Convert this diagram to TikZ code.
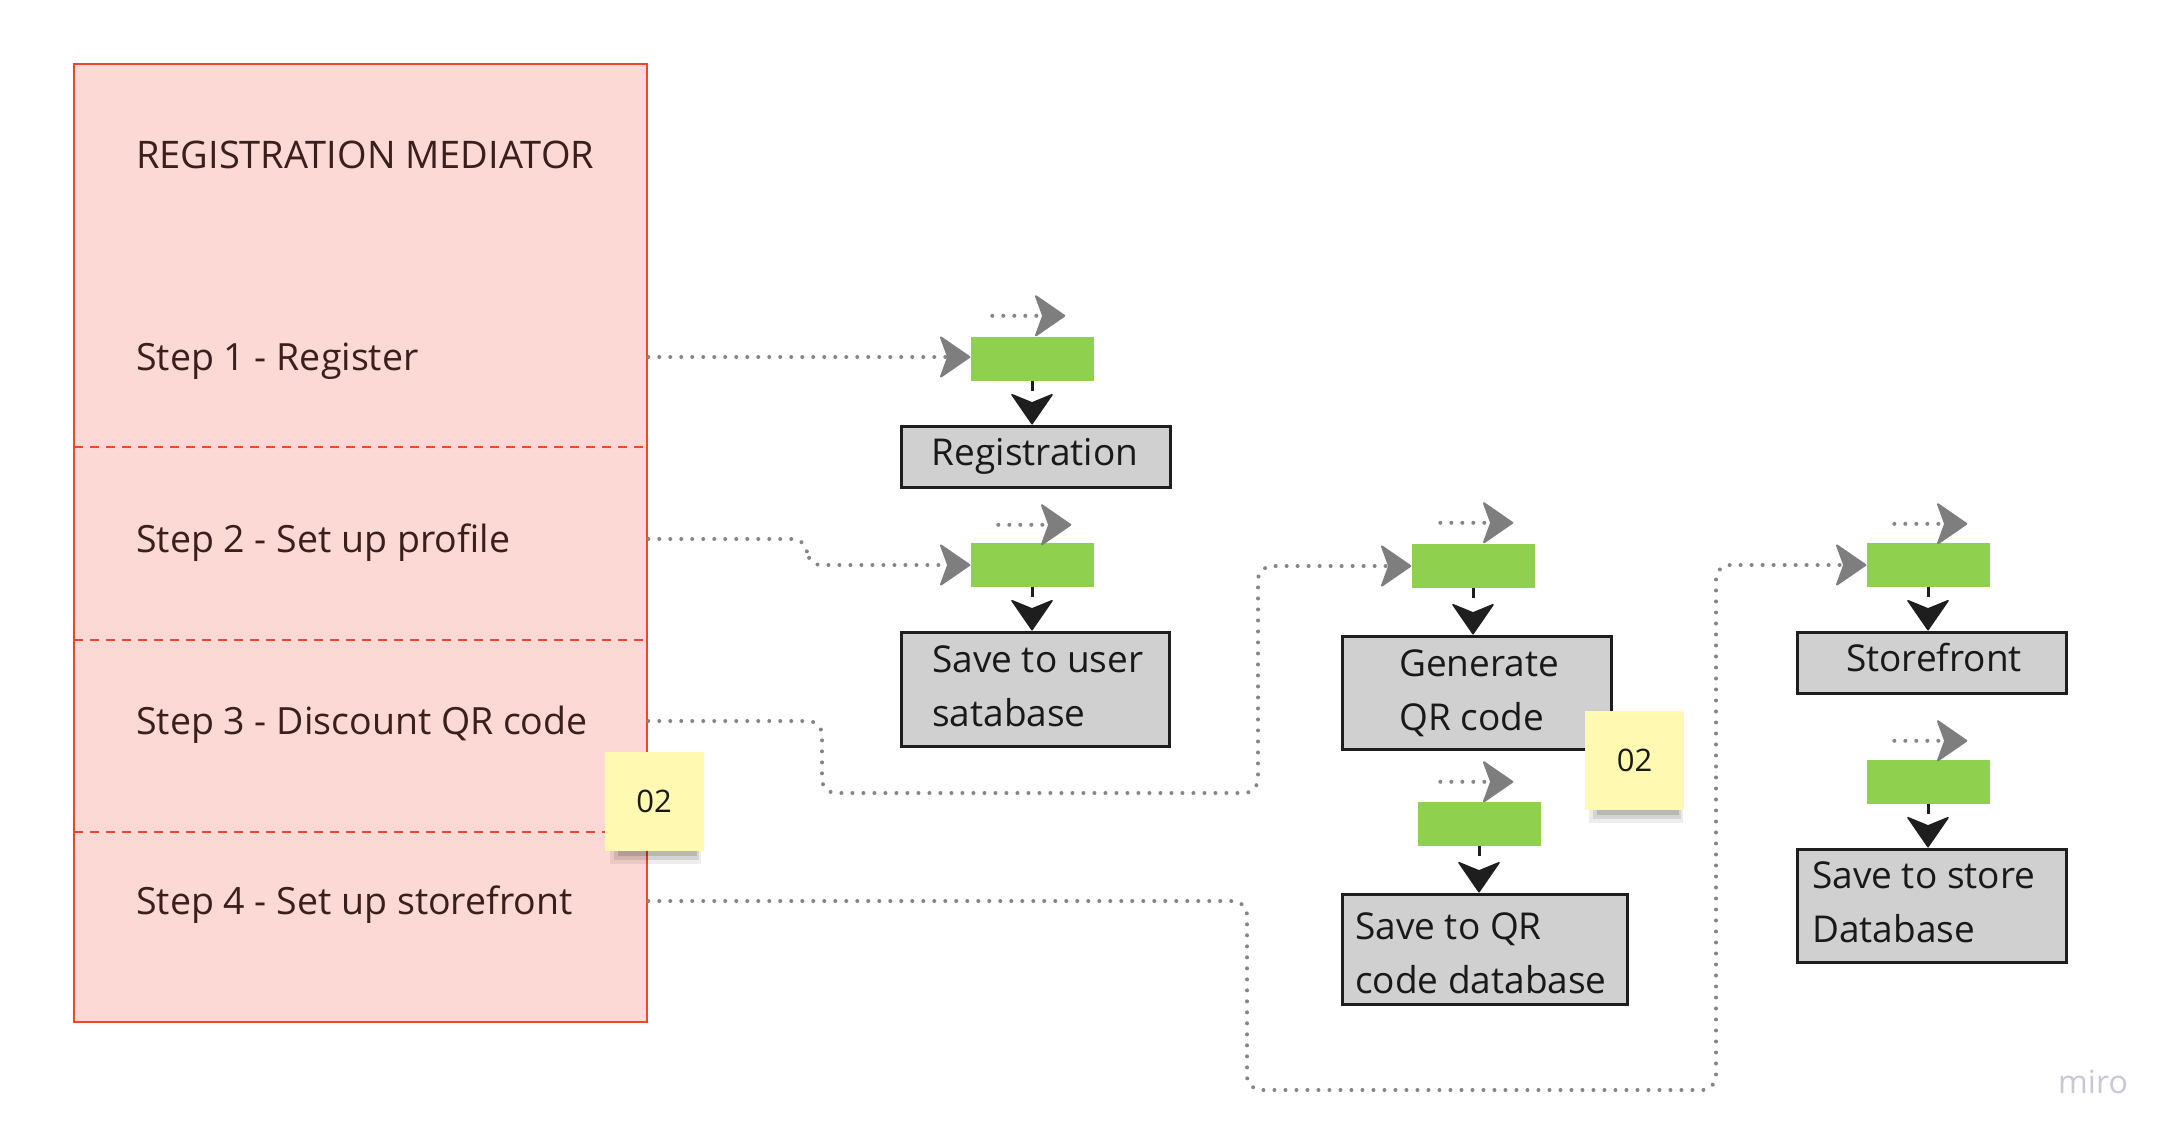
\documentclass[tikz,border=0pt]{standalone}
\usepackage{fontspec}
\setmainfont{Open Sans}
\usetikzlibrary{arrows.meta,calc}
\definecolor{panelfill}{HTML}{FCD9D4}
\definecolor{panelline}{HTML}{F24726}
\definecolor{paneltext}{HTML}{3A1F1C}
\definecolor{greenblk}{HTML}{8FD14F}
\definecolor{boxfill}{HTML}{D0D0D0}
\definecolor{boxline}{HTML}{1E1E1E}
\definecolor{dotgray}{HTML}{858585}
\definecolor{tipgray}{HTML}{7E7E7E}
\definecolor{sticky}{HTML}{FFF9B1}
\definecolor{mirogray}{HTML}{C8C8D6}
\tikzset{
  panelbox/.style={draw=panelline, fill=panelfill, line width=2.5pt, minimum width=573pt, minimum height=958pt, inner sep=0pt},
  sepline/.style={draw=panelline, line width=2pt, dash pattern=on 9pt off 7pt},
  paneltxt/.style={anchor=west, text=paneltext, font=\fontsize{37.5}{44}\selectfont, inner sep=0pt},
  greenbox/.style={fill=greenblk, minimum width=123pt, minimum height=44pt, inner sep=0pt},
  procbox/.style={draw=boxline, fill=boxfill, line width=3pt, inner sep=0pt},
  boxtxt/.style={text=black!90, font=\fontsize{37}{54}\selectfont, inner sep=0pt, align=left},
  dotline/.style={draw=dotgray, line width=4pt, line cap=round, dash pattern=on 0pt off 11pt, rounded corners=14pt},
  graytip/.style={-{Stealth[length=32pt,width=44pt,inset=8pt,round,line width=2pt,fill=tipgray,color=tipgray]}},
  blacktip/.style={draw=boxline, line width=3pt, dash pattern=on 10pt off 30pt, -{Stealth[length=32pt,width=44pt,inset=9pt,round,line width=1.5pt]}},
  stickynote/.style={fill=sticky, minimum width=99pt, minimum height=99pt, inner sep=0pt, font=\fontsize{31}{36}\selectfont, text=black!90},
}
\begin{document}
\begin{tikzpicture}[x=1pt,y=-1pt]
\useasboundingbox[fill=white] (0,0) rectangle (2178,1144);

% panel
\node[panelbox] (panel) at (360.5,543) {};
\draw[sepline] (74,447) -- (647,447);
\draw[sepline] (74,640) -- (647,640);
\draw[sepline] (74,832) -- (647,832);
\node[paneltxt, font=\fontsize{38}{44}\selectfont] (title) at (136,155) {REGISTRATION MEDIATOR};
\node[paneltxt] (s1) at (136,361) {Step 1 - Register};
\node[paneltxt] (s2) at (136,543) {Step 2 - Set up profile};
\node[paneltxt] (s3) at (136,725) {Step 3 - Discount QR code};
\node[paneltxt] (s4) at (136,905) {Step 4 - Set up storefront};
\coordinate (c1) at ([yshift=4pt]s1.west);
\coordinate (c2) at ([yshift=4pt]s2.west);
\coordinate (c3) at ([yshift=4pt]s3.west);
\coordinate (c4) at ([yshift=4pt]s4.west);

% green blocks
\node[greenbox] (g1) at (1032,359) {};
\node[greenbox] (g2) at (1032,565) {};
\node[greenbox] (g3) at (1473,566) {};
\node[greenbox] (g4) at (1479,824) {};
\node[greenbox] (g5) at (1928,565) {};
\node[greenbox] (g6) at (1928,782) {};

% process boxes
\node[procbox, minimum width=269pt, minimum height=61pt] (b1) at (1035.5,456.5) {};
\node[boxtxt] (b1t) at (1035,456) {Registration};
\node[procbox, minimum width=268pt, minimum height=114pt] (b2) at (1035,689) {};
\node[boxtxt, anchor=west] (b2t) at (932,686) {Save to user\\satabase};
\node[procbox, minimum width=269pt, minimum height=113pt] (b3) at (1476.5,692.5) {};
\node[boxtxt, anchor=west] (b3t) at (1399,693) {Generate\\QR code};
\node[procbox, minimum width=285pt, minimum height=110pt] (b4) at (1484.5,949) {};
\node[boxtxt, anchor=west] (b4t) at (1355,953) {Save to QR\\code database};
\node[procbox, minimum width=269pt, minimum height=61pt] (b5) at (1931.5,662.5) {};
\node[boxtxt] (b5t) at (1934,658) {Storefront};
\node[procbox, minimum width=269pt, minimum height=113pt] (b6) at (1931.5,905.5) {};
\node[boxtxt, anchor=west] (b6t) at (1812,902) {Save to store\\Database};

% black arrows
\draw[blacktip] (g1.south) -- (g1.south |- b1.north);
\draw[blacktip] (g2.south) -- (g2.south |- b2.north);
\draw[blacktip] (g3.south) -- (g3.south |- b3.north);
\draw[blacktip] (g4.south) -- (g4.south |- b4.north);
\draw[blacktip] (g5.south) -- (g5.south |- b5.north);
\draw[blacktip] (g6.south) -- (g6.south |- b6.north);

% small floating arrows above green blocks
\foreach \g/\dx/\dy in {g1/22/21, g2/28/18, g3/29/21, g4/23/20, g5/28/19, g6/28/19}{
  \coordinate (\g s) at ($(\g.north west)+(\dx,-\dy)$);
  \coordinate (\g e) at ($(\g s)+(73,0)$);
  \draw[dotline, graytip] (\g s) -- (\g e);
}

% connectors from steps
\coordinate (k2) at (807,0);
\coordinate (k3a) at (822,793);
\coordinate (k3b) at (1258,793);
\coordinate (k4a) at (1247,1090);
\coordinate (k4b) at (1716,1090);
\draw[dotline, graytip] (c1 -| panel.east) -- (c1 -| g1.west);
\draw[dotline, graytip] (c2 -| panel.east) -- (c2 -| k2) -- (k2 |- g2.west) -- (g2.west);
\draw[dotline, graytip] (c3 -| panel.east) -- (c3 -| k3a) -- (k3a) -- (k3b) -- (k3b |- g3.west) -- (g3.west);
\draw[dotline, graytip] (c4 -| panel.east) -- (c4 -| k4a) -- (k4a) -- (k4b) -- (k4b |- g5.west) -- (g5.west);

% sticky notes with shadows
\fill[black,opacity=.07] (610,845) rectangle (701,864);
\fill[black,opacity=.10] (614,845) rectangle (699,860);
\fill[black,opacity=.13] (618,845) rectangle (697,856);
\node[stickynote] (n1) at (654,801) {02};
\fill[black,opacity=.07] (1589,804) rectangle (1683,823);
\fill[black,opacity=.10] (1593,804) rectangle (1681,819);
\fill[black,opacity=.13] (1597,804) rectangle (1679,815);
\node[stickynote] (n2) at (1634.5,760.5) {02};

% watermark
\node[anchor=west, text=mirogray, font=\fontsize{32}{36}\selectfont, inner sep=0pt] (miro) at (2058,1082) {miro};
\end{tikzpicture}
\end{document}
